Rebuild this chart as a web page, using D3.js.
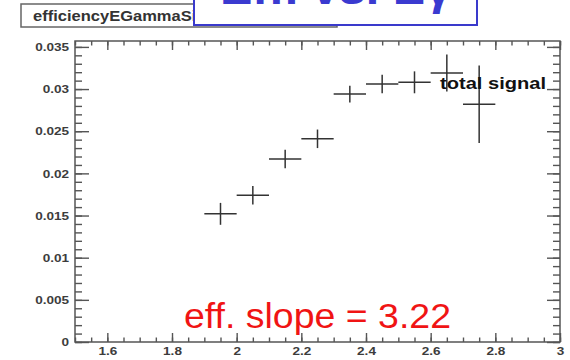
<!DOCTYPE html>
<html>
<head>
<meta charset="utf-8">
<script src="https://cdn.jsdelivr.net/npm/d3@7"></script>
<style>
  body { margin: 0; background: #fff; }
  svg { display: block; font-family: "Liberation Sans", Arial, sans-serif; }
</style>
</head>
<body>
<svg width="570" height="360"></svg>
<script>
// bin centres (E gamma) and efficiency values with errors
const binCenters = [1.95, 2.05, 2.15, 2.25, 2.35, 2.45, 2.55, 2.65, 2.75];
const effValues  = [0.0152, 0.0174, 0.0217, 0.0241, 0.0294, 0.0306, 0.0308, 0.0319, 0.0282];
const effErrors  = [0.0013, 0.0011, 0.0011, 0.0011, 0.0010, 0.0011, 0.0013, 0.0022, 0.0046];
const binHalfWidth = 0.05;

const xMajor = [1.6, 1.8, 2.0, 2.2, 2.4, 2.6, 2.8, 3.0];
const xMinor = d3.range(1.5, 3.001, 0.05);
const yMajor = [0, 0.005, 0.01, 0.015, 0.02, 0.025, 0.03, 0.035];
const yMinor = d3.range(0, 0.0356, 0.001);

const histTitle = "efficiencyEGammaSignal";
const plotTitle = "Eff. vs. E\u03b3";
const legendText = "total signal";
const slopeText = "eff. slope = 3.22";

const svg = d3.select("svg");
const frameLeft = 75, frameRight = 560, frameTop = 41, frameBottom = 342;

const x = d3.scaleLinear().domain([1.5, 3]).range([frameLeft, frameRight]);
const y = d3.scaleLinear().domain([0, 0.0357]).range([frameBottom, frameTop]);

const axisColor = "#555";
const sx = 1.18; // text in the picture is a bit wide

// frame
svg.append("rect")
  .attr("x", frameLeft).attr("y", frameTop)
  .attr("width", frameRight - frameLeft).attr("height", frameBottom - frameTop)
  .attr("fill", "#fff").attr("stroke", axisColor).attr("stroke-width", 1.5);

function styleAxis(g) {
  g.select(".domain").remove();
  g.selectAll("line").attr("stroke", axisColor).attr("stroke-width", 1.4);
}

// bottom axis
svg.append("g")
  .attr("transform", `translate(0,${frameBottom})`)
  .call(d3.axisBottom(x).tickValues(xMinor).tickSize(-4.5).tickFormat(""))
  .call(styleAxis);
svg.append("g")
  .attr("transform", `translate(0,${frameBottom})`)
  .call(d3.axisBottom(x).tickValues(xMajor).tickSize(-9).tickPadding(5)
    .tickFormat(d3.format("~g")))
  .call(styleAxis)
  .call(g => g.selectAll("text")
    .attr("fill", "#3c3c3c").style("font-size", "11.5px").style("font-weight", "bold")
    .attr("transform", `scale(${sx},1)`));

// top axis
svg.append("g")
  .attr("transform", `translate(0,${frameTop})`)
  .call(d3.axisTop(x).tickValues(xMinor).tickSize(-4.5).tickFormat(""))
  .call(styleAxis);
svg.append("g")
  .attr("transform", `translate(0,${frameTop})`)
  .call(d3.axisTop(x).tickValues(xMajor).tickSize(-9).tickFormat(""))
  .call(styleAxis);

// left axis
svg.append("g")
  .attr("transform", `translate(${frameLeft},0)`)
  .call(d3.axisLeft(y).tickValues(yMinor).tickSize(-7).tickFormat(""))
  .call(styleAxis);
svg.append("g")
  .attr("transform", `translate(${frameLeft},0)`)
  .call(d3.axisLeft(y).tickValues(yMajor).tickSize(-14).tickPadding(5)
    .tickFormat(d3.format("~g")))
  .call(styleAxis)
  .call(g => g.selectAll("text")
    .attr("fill", "#3c3c3c").style("font-size", "11.5px").style("font-weight", "bold")
    .attr("transform", `scale(${sx},1)`));

// right axis
svg.append("g")
  .attr("transform", `translate(${frameRight},0)`)
  .call(d3.axisRight(y).tickValues(yMinor).tickSize(-7).tickFormat(""))
  .call(styleAxis);
svg.append("g")
  .attr("transform", `translate(${frameRight},0)`)
  .call(d3.axisRight(y).tickValues(yMajor).tickSize(-13).tickFormat(""))
  .call(styleAxis);

// data points as error crosses
const points = binCenters.map((c, i) => ({ x: c, v: effValues[i], e: effErrors[i] }));
const marks = svg.append("g").attr("stroke", "#333").attr("stroke-width", 1.5);
marks.selectAll("line.h")
  .data(points).enter().append("line")
  .attr("class", "h")
  .attr("x1", d => x(d.x - binHalfWidth)).attr("x2", d => x(d.x + binHalfWidth))
  .attr("y1", d => y(d.v)).attr("y2", d => y(d.v));
marks.selectAll("line.v")
  .data(points).enter().append("line")
  .attr("class", "v")
  .attr("x1", d => x(d.x)).attr("x2", d => x(d.x))
  .attr("y1", d => y(d.v - d.e)).attr("y2", d => y(d.v + d.e));

// legend text
svg.append("text")
  .attr("x", 440).attr("y", 89)
  .attr("textLength", 106).attr("lengthAdjust", "spacingAndGlyphs")
  .style("font-size", "17px").style("font-weight", "bold")
  .attr("fill", "#111")
  .text(legendText);

// red annotation
svg.append("text")
  .attr("x", 184).attr("y", 328)
  .attr("textLength", 267).attr("lengthAdjust", "spacingAndGlyphs")
  .style("font-size", "35px")
  .attr("fill", "#f01414")
  .text(slopeText);

// histogram title box
svg.append("rect")
  .attr("x", 21).attr("y", 4).attr("width", 316).attr("height", 23)
  .attr("fill", "#fff").attr("stroke", "#666").attr("stroke-width", 1.5);
svg.append("text")
  .attr("transform", `translate(33,21) scale(${sx},1)`)
  .style("font-size", "14px").style("font-weight", "bold")
  .attr("fill", "#333")
  .text(histTitle);

// blue slide title box, cut at the top
svg.append("rect")
  .attr("x", 194).attr("y", -20).attr("width", 283).attr("height", 45)
  .attr("fill", "#fff").attr("stroke", "#3a3acc").attr("stroke-width", 2);
svg.append("text")
  .attr("x", 220).attr("y", 4)
  .attr("textLength", 232).attr("lengthAdjust", "spacingAndGlyphs")
  .style("font-size", "46px").style("font-weight", "bold")
  .attr("fill", "#3a3ad0")
  .text(plotTitle);
</script>
</body>
</html>
